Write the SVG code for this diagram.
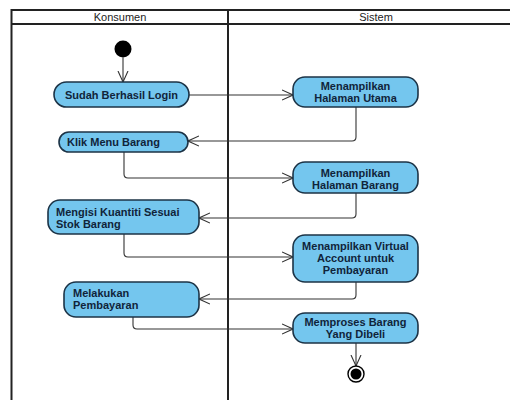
<svg xmlns="http://www.w3.org/2000/svg" width="510" height="400" viewBox="0 0 510 400">
<defs>
<style>
.lane{fill:none;stroke:#222;stroke-width:2}
.hdr{font-family:"Liberation Sans",Arial,sans-serif;font-size:11px;fill:#222;text-anchor:middle}
.act{fill:#74c6ee;stroke:#1c3346;stroke-width:1.6}
.t{font-family:"Liberation Sans",Arial,sans-serif;font-size:11px;font-weight:bold;fill:#10243a}
.c{text-anchor:middle}
.edge{fill:none;stroke:#333;stroke-width:1.1;marker-end:url(#arr)}
</style>
<marker id="arr" viewBox="0 0 12 12" refX="11" refY="6" markerWidth="12" markerHeight="12" markerUnits="userSpaceOnUse" orient="auto">
<path d="M0,1 L11,6 L0,11" fill="none" stroke="#333" stroke-width="1.1"/>
</marker>
</defs>
<rect width="510" height="400" fill="#fff"/>
<g id="swimlanes">
<rect class="lane" x="11.5" y="10" width="515" height="400"/>
<line class="lane" x1="11.5" y1="24" x2="526" y2="24"/>
<line class="lane" x1="228" y1="10" x2="228" y2="410"/>
<text class="hdr" x="120" y="21">Konsumen</text>
<text class="hdr" x="376" y="21">Sistem</text>
</g>
<g id="connectors">
<path class="edge" d="M123,57.5 V82"/>
<path class="edge" d="M189,95 H293"/>
<path class="edge" d="M356,107 V137 Q356,141 352,141 H188"/>
<path class="edge" d="M124,152 V174 Q124,178 128,178 H293"/>
<path class="edge" d="M356,193 V214 Q356,218 352,218 H199"/>
<path class="edge" d="M124,234 V253 Q124,257 128,257 H293"/>
<path class="edge" d="M356,282 V295 Q356,299 352,299 H199"/>
<path class="edge" d="M133,317 V325 Q133,329 137,329 H293"/>
<path class="edge" d="M356,343 V366"/>
</g>
<g id="start"><circle cx="123" cy="49" r="8.5" fill="#000"/></g>
<g id="n1"><rect class="act" x="54" y="82" width="135" height="25" rx="12.5"/><text class="t c" x="121.5" y="98.5">Sudah Berhasil Login</text></g>
<g id="n2"><rect class="act" x="293" y="77" width="125" height="30" rx="12"/><text class="t c" x="355.5" y="90">Menampilkan</text><text class="t c" x="355.5" y="102">Halaman Utama</text></g>
<g id="n3"><rect class="act" x="59" y="132" width="129" height="20" rx="10"/><text class="t" x="67" y="145.5">Klik Menu Barang</text></g>
<g id="n4"><rect class="act" x="293" y="162" width="125" height="31" rx="12"/><text class="t c" x="355.5" y="177">Menampilkan</text><text class="t c" x="355.5" y="189">Halaman Barang</text></g>
<g id="n5"><rect class="act" x="48" y="200" width="151" height="34" rx="12"/><text class="t" x="56" y="216">Mengisi Kuantiti Sesuai</text><text class="t" x="56" y="228">Stok Barang</text></g>
<g id="n6"><rect class="act" x="293" y="235" width="125" height="47" rx="12"/><text class="t c" x="355.5" y="250">Menampilkan Virtual</text><text class="t c" x="355.5" y="262">Account untuk</text><text class="t c" x="355.5" y="274">Pembayaran</text></g>
<g id="n7"><rect class="act" x="64" y="282" width="135" height="35" rx="12"/><text class="t" x="73" y="297">Melakukan</text><text class="t" x="73" y="309">Pembayaran</text></g>
<g id="n8"><rect class="act" x="293" y="313" width="125" height="30" rx="12"/><text class="t c" x="355.5" y="326">Memproses Barang</text><text class="t c" x="355.5" y="338">Yang Dibeli</text></g>
<g id="end"><circle cx="356" cy="374" r="8" fill="#fff" stroke="#000" stroke-width="1.4"/><circle cx="356" cy="374" r="5.5" fill="#000"/></g>
</svg>
